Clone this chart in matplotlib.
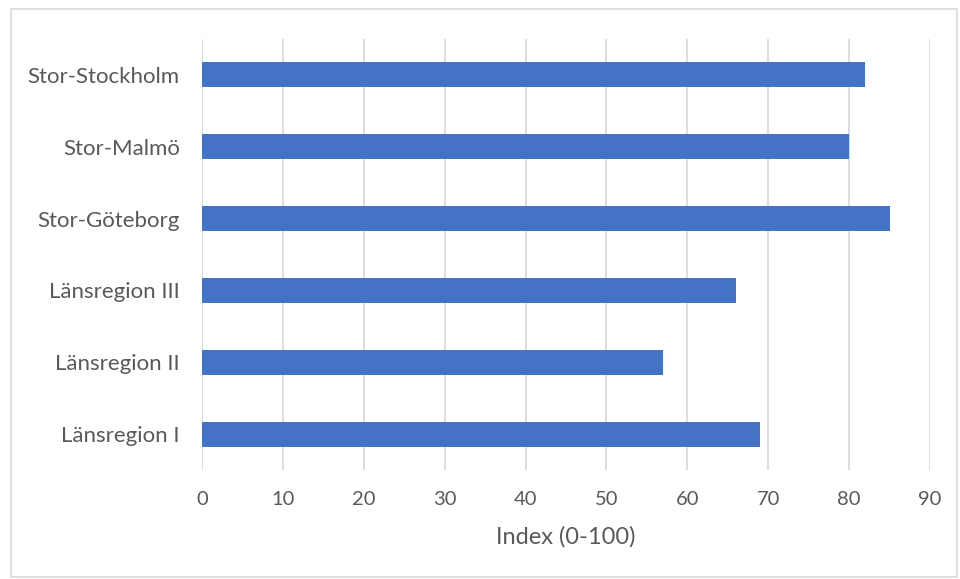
import matplotlib
matplotlib.use("Agg")
import matplotlib.pyplot as plt
from matplotlib.patches import Rectangle

regions = ["Länsregion I", "Länsregion II", "Länsregion III",
           "Stor-Göteborg", "Stor-Malmö", "Stor-Stockholm"]
index_values = [69, 57, 66, 85, 80, 82]
x_ticks = [0, 10, 20, 30, 40, 50, 60, 70, 80, 90]

plt.rcParams['font.family'] = ['Lato', 'DejaVu Sans']
text_color = "#595959"
grid_color = "#d9d9d9"
bar_color = "#4472c4"

fig = plt.figure(figsize=(9.6, 5.79), dpi=100)
fig.patches.append(Rectangle((11 / 960, 1 - 577 / 579), 946 / 960, 568 / 579,
                             transform=fig.transFigure, fill=False,
                             edgecolor=grid_color, linewidth=1.2))

ax = fig.add_axes([202 / 960, 1 - 470 / 579, 728 / 960, 431 / 579])
ypos = list(range(len(regions)))
ax.barh(ypos, index_values, height=0.35, color=bar_color, zorder=3)

ax.set_xlim(0, 90)
ax.set_ylim(-0.5, len(regions) - 0.5)
ax.set_xticks(x_ticks)
ax.set_xticklabels([str(t) for t in x_ticks])
ax.set_yticks(ypos)
ax.set_yticklabels(regions)
ax.grid(axis='x', color=grid_color, linewidth=1.3, zorder=0)
for s in ax.spines.values():
    s.set_visible(False)
ax.tick_params(axis='both', length=0, colors=text_color)
ax.tick_params(axis='x', pad=15, labelsize=14.5)
ax.tick_params(axis='y', pad=16, labelsize=16)
ax.set_xlabel("Index (0-100)", fontsize=17, color=text_color, labelpad=13)

fig.savefig("out.png", dpi=100)
